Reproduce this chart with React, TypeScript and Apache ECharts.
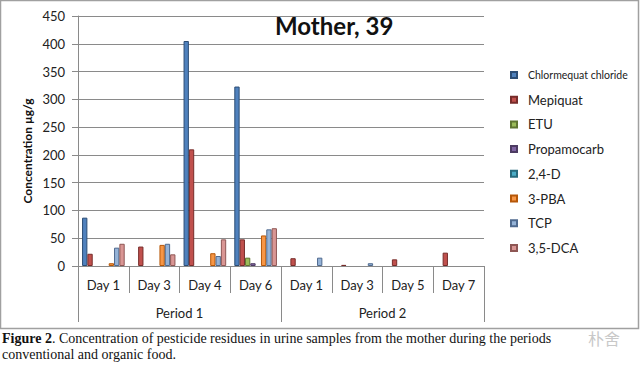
import React, { useEffect, useRef } from "react";
import * as echarts from "echarts";

const days = ["Day 1", "Day 3", "Day 4", "Day 6", "Day 1", "Day 3", "Day 5", "Day 7"];
const periods = ["Period 1", "Period 2"];
const yTicks = { min: 0, max: 450, interval: 50 };

const chlormequat = [87, null, 405, 323, null, null, null, null];
const mepiquat = [22, 35, 210, 48, 14, 2, 12, 24];
const etu = [null, null, null, 15, null, null, null, null];
const propamocarb = [null, null, null, 5, null, null, null, null];
const d24 = [null, null, null, null, null, null, null, null];
const pba3 = [5, 38, 23, 55, null, null, null, null];
const tcp = [33, 40, 18, 66, 15, 5, null, null];
const dca35 = [40, 21, 48, 68, null, null, null, null];

const seriesNames = ["Chlormequat chloride", "Mepiquat", "ETU", "Propamocarb", "2,4-D", "3-PBA", "TCP", "3,5-DCA"];
const seriesData = [chlormequat, mepiquat, etu, propamocarb, d24, pba3, tcp, dca35];
const fills = ["#4F81BD", "#C0504D", "#9BBB59", "#8064A2", "#4BACC6", "#F79646", "#95B3D7", "#D99694"];
const borders = ["#2C4D75", "#772C2A", "#5F7530", "#4D3B62", "#276A7C", "#B65708", "#4F6A8F", "#8E5654"];

const FONT = "Lato, 'Open Sans', sans-serif";

export default function App() {
  const ref = useRef<HTMLDivElement>(null);
  useEffect(() => {
    if (!ref.current) return;
    const chart = echarts.init(ref.current, undefined, { renderer: "svg" });
    const gridColor = "#8A8A8A";
    chart.setOption({
      animation: false,
      backgroundColor: "#ffffff",
      textStyle: { fontFamily: FONT },
      grid: { left: 78, right: 156, top: 16, bottom: 101, containLabel: false },
      xAxis: [
        {
          type: "category",
          data: days,
          position: "bottom",
          axisLine: { show: true, lineStyle: { color: gridColor, width: 1 } },
          axisTick: { show: true, interval: 0, length: 27, lineStyle: { color: gridColor } },
          axisLabel: { interval: 0, margin: 12, fontSize: 13, color: "#222", fontFamily: FONT },
        },
        {
          type: "category",
          data: periods,
          position: "bottom",
          axisLine: { show: false },
          axisTick: { show: true, interval: 0, length: 56, lineStyle: { color: gridColor } },
          axisLabel: { interval: 0, margin: 40, fontSize: 13, color: "#222", fontFamily: FONT },
          splitLine: { show: false },
        },
      ],
      yAxis: {
        type: "value",
        min: yTicks.min,
        max: yTicks.max,
        interval: yTicks.interval,
        axisLine: { show: true, lineStyle: { color: gridColor } },
        axisTick: { show: true, length: 6, lineStyle: { color: gridColor } },
        axisLabel: { margin: 13, fontSize: 13, color: "#222", fontFamily: FONT },
        splitLine: { show: true, lineStyle: { color: gridColor, width: 1 } },
      },
      legend: {
        orient: "vertical",
        left: 505,
        top: 63,
        icon: "rect",
        itemWidth: 6,
        itemHeight: 6,
        itemGap: 10.7,
        textStyle: { fontSize: 13, lineHeight: 14, color: "#222", fontFamily: FONT, padding: [0, 0, 0, 6] },
        data: seriesNames.map((n, i) =>
          i === 0 ? { name: n, textStyle: { fontSize: 10.5, lineHeight: 14 } } : { name: n }
        ),
      },
      series: seriesNames.map((n, i) => ({
        name: n,
        type: "bar",
        xAxisIndex: 0,
        data: seriesData[i],
        barGap: "0%",
        barCategoryGap: "16%",
        itemStyle: { color: fills[i], borderColor: borders[i], borderWidth: 1 },
      })),
      graphic: [
        {
          type: "rect",
          shape: { x: 0.5, y: 0.5, width: 638, height: 328 },
          style: { fill: "none", stroke: "#A0A0A0", lineWidth: 1.5 },
          silent: true,
        },
        {
          type: "text",
          left: 275,
          top: 13,
          style: { text: "Mother, 39", fontSize: 24, fontWeight: "bold", fill: "#111", fontFamily: FONT },
        },
        {
          type: "text",
          x: 27,
          y: 151,
          rotation: Math.PI / 2,
          style: {
            text: "Concentration µg/g",
            fontSize: 12,
            fontWeight: "bold",
            fill: "#111",
            fontFamily: FONT,
            align: "center",
            verticalAlign: "middle",
          },
        },
        {
          type: "text",
          x: 2,
          y: 330,
          style: {
            text: "{b|Figure 2}. Concentration of pesticide residues in urine samples from the mother during the periods\nconventional and organic food.",
            fontSize: 14,
            lineHeight: 16,
            fill: "#111",
            fontFamily: "'Liberation Serif', serif",
            rich: { b: { fontWeight: "bold", fontSize: 14, fontFamily: "'Liberation Serif', serif", fill: "#111" } },
          },
        },
        {
          type: "text",
          x: 588,
          y: 330,
          style: { text: "朴舍", fontSize: 16, fill: "#C8C8C8", fontFamily: "'Noto Sans CJK SC', sans-serif" },
        },
      ],
    });
    return () => chart.dispose();
  }, []);
  return <div ref={ref} style={{ position: "absolute", left: 0, top: 0, width: 640, height: 367 }} />;
}
